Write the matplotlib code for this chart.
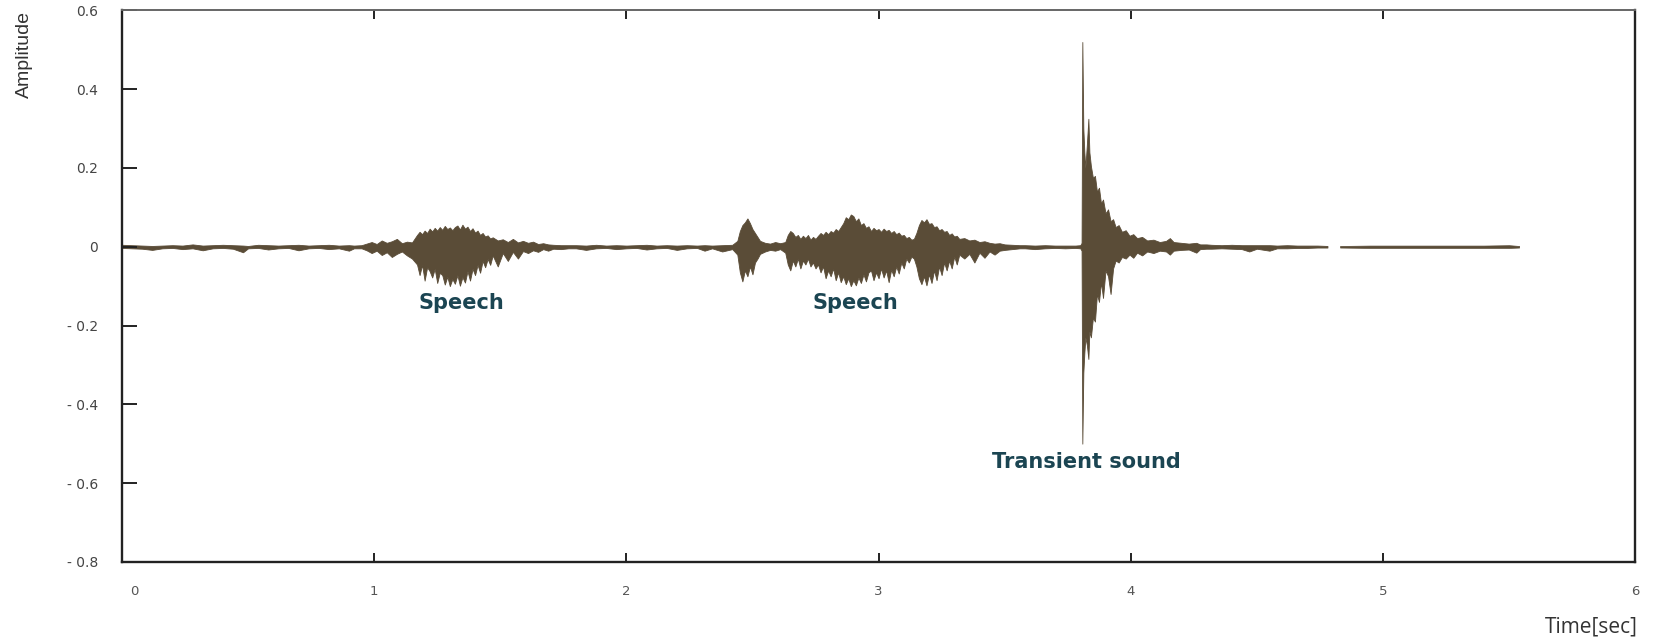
import numpy as np
import matplotlib.pyplot as plt
from matplotlib.transforms import ScaledTranslation

# waveform envelope (time in sec, upper / lower amplitude)

# quiet start
q1_t = [0.00, 0.04, 0.08, 0.12, 0.16, 0.20, 0.24, 0.28, 0.32, 0.36,
        0.40, 0.44, 0.48, 0.50, 0.54, 0.58, 0.62, 0.66, 0.70, 0.74,
        0.78, 0.82, 0.86, 0.90, 0.92]
q1_up = [0.005, 0.004, 0.003, 0.002, 0.003, 0.004, 0.003, 0.006, 0.003, 0.004,
         0.005, 0.004, 0.003, 0.002, 0.005, 0.004, 0.003, 0.004, 0.005, 0.003,
         0.004, 0.005, 0.003, 0.004, 0.003]
q1_lo = [-0.003, -0.004, -0.005, -0.008, -0.004, -0.003, -0.006, -0.004, -0.009, -0.004,
         -0.003, -0.005, -0.014, -0.004, -0.003, -0.007, -0.004, -0.003, -0.009, -0.004,
         -0.003, -0.006, -0.004, -0.010, -0.004]

# first speech
s1_t = [0.95, 0.97, 0.99, 1.01, 1.03, 1.05, 1.07, 1.09, 1.11, 1.13,
        1.15, 1.17, 1.18, 1.19, 1.20, 1.21, 1.22, 1.23, 1.24, 1.25,
        1.26, 1.27, 1.28, 1.29, 1.30, 1.31, 1.32, 1.33, 1.34, 1.35,
        1.36, 1.37, 1.38, 1.39, 1.40, 1.41, 1.42, 1.43, 1.44, 1.45,
        1.46, 1.47, 1.49, 1.51, 1.53, 1.55, 1.57, 1.59, 1.61, 1.63,
        1.65, 1.67, 1.69, 1.71, 1.74, 1.77]
s1_up = [0.004, 0.008, 0.012, 0.007, 0.016, 0.010, 0.014, 0.020, 0.009, 0.013,
         0.011, 0.030, 0.038, 0.032, 0.041, 0.035, 0.046, 0.039, 0.048, 0.041,
         0.050, 0.043, 0.053, 0.045, 0.049, 0.042, 0.050, 0.054, 0.044, 0.056,
         0.046, 0.051, 0.040, 0.047, 0.036, 0.041, 0.030, 0.035, 0.026, 0.029,
         0.021, 0.024, 0.016, 0.019, 0.012, 0.020, 0.011, 0.015, 0.010, 0.013,
         0.007, 0.009, 0.006, 0.005, 0.004, 0.004]
s1_lo = [-0.004, -0.009, -0.016, -0.010, -0.021, -0.014, -0.026, -0.018, -0.012, -0.022,
         -0.030, -0.045, -0.072, -0.046, -0.086, -0.052, -0.062, -0.078, -0.056, -0.092,
         -0.066, -0.072, -0.096, -0.076, -0.100, -0.082, -0.094, -0.072, -0.099, -0.077,
         -0.091, -0.062, -0.086, -0.056, -0.072, -0.046, -0.066, -0.036, -0.052, -0.031,
         -0.046, -0.022, -0.050, -0.016, -0.036, -0.013, -0.030, -0.011, -0.016, -0.009,
         -0.013, -0.006, -0.010, -0.005, -0.006, -0.004]

# quiet between
q2_t = [1.80, 1.84, 1.88, 1.92, 1.96, 2.00, 2.04, 2.08, 2.12, 2.16,
        2.20, 2.24, 2.28, 2.31, 2.34, 2.38, 2.42]
q2_up = [0.004, 0.003, 0.005, 0.003, 0.004, 0.003, 0.004, 0.005, 0.003, 0.004,
         0.003, 0.004, 0.003, 0.004, 0.003, 0.004, 0.005]
q2_lo = [-0.004, -0.008, -0.004, -0.003, -0.006, -0.004, -0.003, -0.007, -0.004, -0.003,
         -0.008, -0.004, -0.003, -0.010, -0.004, -0.012, -0.006]

# second speech
s2_t = [2.44, 2.45, 2.46, 2.47, 2.48, 2.49, 2.50, 2.51, 2.52, 2.53,
        2.55, 2.57, 2.59, 2.61, 2.63,
        2.64, 2.65, 2.66, 2.67, 2.68, 2.69, 2.70, 2.71, 2.72, 2.73, 2.74,
        2.75, 2.76, 2.77, 2.78, 2.79, 2.80, 2.81, 2.82, 2.83, 2.84, 2.85,
        2.86, 2.87, 2.88, 2.89, 2.90, 2.91, 2.92, 2.93, 2.94, 2.95, 2.96,
        2.97, 2.98, 2.99, 3.00, 3.01, 3.02, 3.03, 3.04, 3.05,
        3.06, 3.07, 3.08, 3.09, 3.10, 3.11, 3.12, 3.13, 3.14,
        3.15, 3.16, 3.17, 3.18, 3.19, 3.20, 3.21, 3.22, 3.23,
        3.24, 3.25, 3.26, 3.27, 3.28, 3.29, 3.30, 3.31, 3.32,
        3.34, 3.36, 3.38, 3.40, 3.42, 3.44, 3.46, 3.48, 3.50, 3.53, 3.56]
s2_up = [0.015, 0.040, 0.055, 0.062, 0.072, 0.060, 0.045, 0.035, 0.025, 0.015,
         0.010, 0.008, 0.012, 0.009, 0.012,
         0.030, 0.040, 0.035, 0.025, 0.030, 0.020, 0.028, 0.022, 0.030, 0.018, 0.025,
         0.020, 0.028, 0.035, 0.030, 0.038, 0.032, 0.040, 0.036, 0.045, 0.040, 0.050,
         0.060, 0.075, 0.070, 0.082, 0.078, 0.065, 0.072, 0.055, 0.060, 0.048, 0.052,
         0.040, 0.048, 0.042, 0.045, 0.038, 0.046, 0.040, 0.043, 0.035,
         0.040, 0.032, 0.036, 0.028, 0.030, 0.022, 0.025, 0.018, 0.020,
         0.035, 0.055, 0.068, 0.062, 0.070, 0.058, 0.060, 0.050, 0.052,
         0.042, 0.045, 0.038, 0.040, 0.030, 0.034, 0.026, 0.028, 0.020,
         0.022, 0.016, 0.018, 0.012, 0.014, 0.010, 0.008, 0.009, 0.006, 0.005, 0.004]
s2_lo = [-0.020, -0.065, -0.088, -0.060, -0.075, -0.050, -0.070, -0.040, -0.030, -0.018,
         -0.012, -0.008, -0.010, -0.006, -0.015,
         -0.045, -0.060, -0.035, -0.050, -0.030, -0.055, -0.035, -0.045, -0.030, -0.050, -0.040,
         -0.055, -0.045, -0.065, -0.050, -0.080, -0.060, -0.075, -0.055, -0.085, -0.065, -0.090,
         -0.075, -0.095, -0.080, -0.100, -0.085, -0.098, -0.078, -0.092, -0.070, -0.088, -0.065,
         -0.060, -0.085, -0.065, -0.080, -0.055, -0.078, -0.060, -0.090, -0.058,
         -0.075, -0.050, -0.068, -0.040, -0.055, -0.030, -0.040, -0.025, -0.030,
         -0.050, -0.080, -0.095, -0.075, -0.098, -0.070, -0.092, -0.060, -0.085,
         -0.050, -0.072, -0.040, -0.060, -0.035, -0.055, -0.025, -0.045, -0.020,
         -0.030, -0.018, -0.040, -0.015, -0.028, -0.012, -0.020, -0.010, -0.008, -0.006, -0.004]

# quiet before the transient
q3_t = [3.58, 3.62, 3.66, 3.70, 3.74, 3.78, 3.80]
q3_up = [0.004, 0.003, 0.004, 0.003, 0.003, 0.003, 0.004]
q3_lo = [-0.004, -0.006, -0.004, -0.003, -0.004, -0.003, -0.004]

# transient and its decay
tr_t = [3.805, 3.808, 3.812, 3.816, 3.820, 3.826, 3.832, 3.836, 3.842, 3.850,
        3.858, 3.866, 3.874, 3.882, 3.890, 3.900, 3.910, 3.920, 3.930, 3.940,
        3.952, 3.965, 3.980, 3.995, 4.010, 4.025, 4.045, 4.065, 4.090, 4.115,
        4.140, 4.155, 4.170, 4.200, 4.230, 4.260, 4.275, 4.300]
tr_up = [0.010, 0.520, 0.300, 0.240, 0.200, 0.260, 0.325, 0.240, 0.205, 0.175,
         0.180, 0.140, 0.150, 0.110, 0.120, 0.085, 0.095, 0.065, 0.070, 0.050,
         0.055, 0.038, 0.042, 0.028, 0.032, 0.022, 0.025, 0.016, 0.018, 0.012,
         0.015, 0.022, 0.012, 0.010, 0.008, 0.010, 0.006, 0.006]
tr_lo = [-0.010, -0.500, -0.320, -0.270, -0.230, -0.250, -0.285, -0.215, -0.230, -0.180,
         -0.190, -0.120, -0.140, -0.090, -0.130, -0.060, -0.075, -0.120, -0.055, -0.035,
         -0.040, -0.026, -0.030, -0.020, -0.028, -0.015, -0.022, -0.012, -0.016, -0.010,
         -0.012, -0.020, -0.010, -0.008, -0.007, -0.015, -0.006, -0.005]

# faint tail
tl_t = [4.32, 4.36, 4.40, 4.44, 4.47, 4.50, 4.55, 4.58, 4.62, 4.66, 4.70, 4.74, 4.78]
tl_up = [0.005, 0.004, 0.005, 0.004, 0.004, 0.004, 0.004, 0.003, 0.004, 0.003, 0.003, 0.003, 0.002]
tl_lo = [-0.005, -0.004, -0.005, -0.006, -0.012, -0.005, -0.010, -0.004, -0.004, -0.003, -0.003, -0.002, -0.002]

# last flat piece after the small gap
en_t = [4.83, 4.95, 5.10, 5.25, 5.40, 5.50, 5.54]
en_up = [0.002, 0.003, 0.003, 0.003, 0.003, 0.004, 0.002]
en_lo = [-0.002, -0.003, -0.003, -0.003, -0.003, -0.003, -0.002]

x_ticks = [0, 1, 2, 3, 4, 5, 6]
y_ticks = [-0.8, -0.6, -0.4, -0.2, 0, 0.2, 0.4, 0.6]
y_labels = ['- 0.8', '- 0.6', '- 0.4', '- 0.2', '0', '0.2', '0.4', '0.6']

notes = ['Speech', 'Speech', 'Transient sound']
note_x = [1.345, 2.91, 3.826]
note_y = [-0.142, -0.142, -0.547]

wave_col = '#5a4c37'

t = np.concatenate([q1_t, s1_t, q2_t, s2_t, q3_t, tr_t, tl_t])
up = np.concatenate([q1_up, s1_up, q2_up, s2_up, q3_up, tr_up, tl_up])
lo = np.concatenate([q1_lo, s1_lo, q2_lo, s2_lo, q3_lo, tr_lo, tl_lo])

fig = plt.figure(figsize=(16.55, 6.43), dpi=100)
ax = fig.add_axes([0.0737, 0.1263, 0.9143, 0.8574])

ax.fill_between(t, lo, up, color=wave_col, lw=0.6, edgecolor=wave_col)
ax.fill_between(en_t, en_lo, en_up, color=wave_col, lw=0.5, edgecolor=wave_col)

for s, x, y in zip(notes, note_x, note_y):
    ax.text(x, y, s, ha='center', va='center', fontsize=15, fontweight='bold',
            color='#1b4552', family='DejaVu Sans')

ax.set_xlim(0, 6)
ax.set_ylim(-0.8, 0.6)

ax.set_xticks(x_ticks)
ax.set_xticklabels([str(v) for v in x_ticks])
ax.set_yticks(y_ticks)
ax.set_yticklabels(y_labels)

ax.tick_params(axis='y', direction='in', length=11, width=1.4, pad=17,
               labelsize=10, labelcolor='#444444', color='#222222')
ax.tick_params(axis='x', direction='in', length=6.5, width=1.4, pad=17,
               labelsize=9.5, labelcolor='#555555', color='#222222', top=True)

# the "0" label sits a bit to the right of the spine
lab0 = ax.get_xticklabels()[0]
lab0.set_transform(lab0.get_transform() + ScaledTranslation(9 / 72, 0, fig.dpi_scale_trans))

for side in ['left', 'bottom', 'right']:
    ax.spines[side].set_linewidth(1.7)
    ax.spines[side].set_color('#222222')
ax.spines['top'].set_linewidth(1.4)
ax.spines['top'].set_color('#666666')

fig.text(0.0145, 0.916, 'Amplitude', rotation=90, ha='center', va='center',
         fontsize=14, color='#333333', family='Liberation Sans')
fig.text(0.9897, 0.0249, 'Time[sec]', ha='right', va='center',
         fontsize=15, color='#333333', family='Open Sans')

fig.savefig('out.png', dpi=100)
